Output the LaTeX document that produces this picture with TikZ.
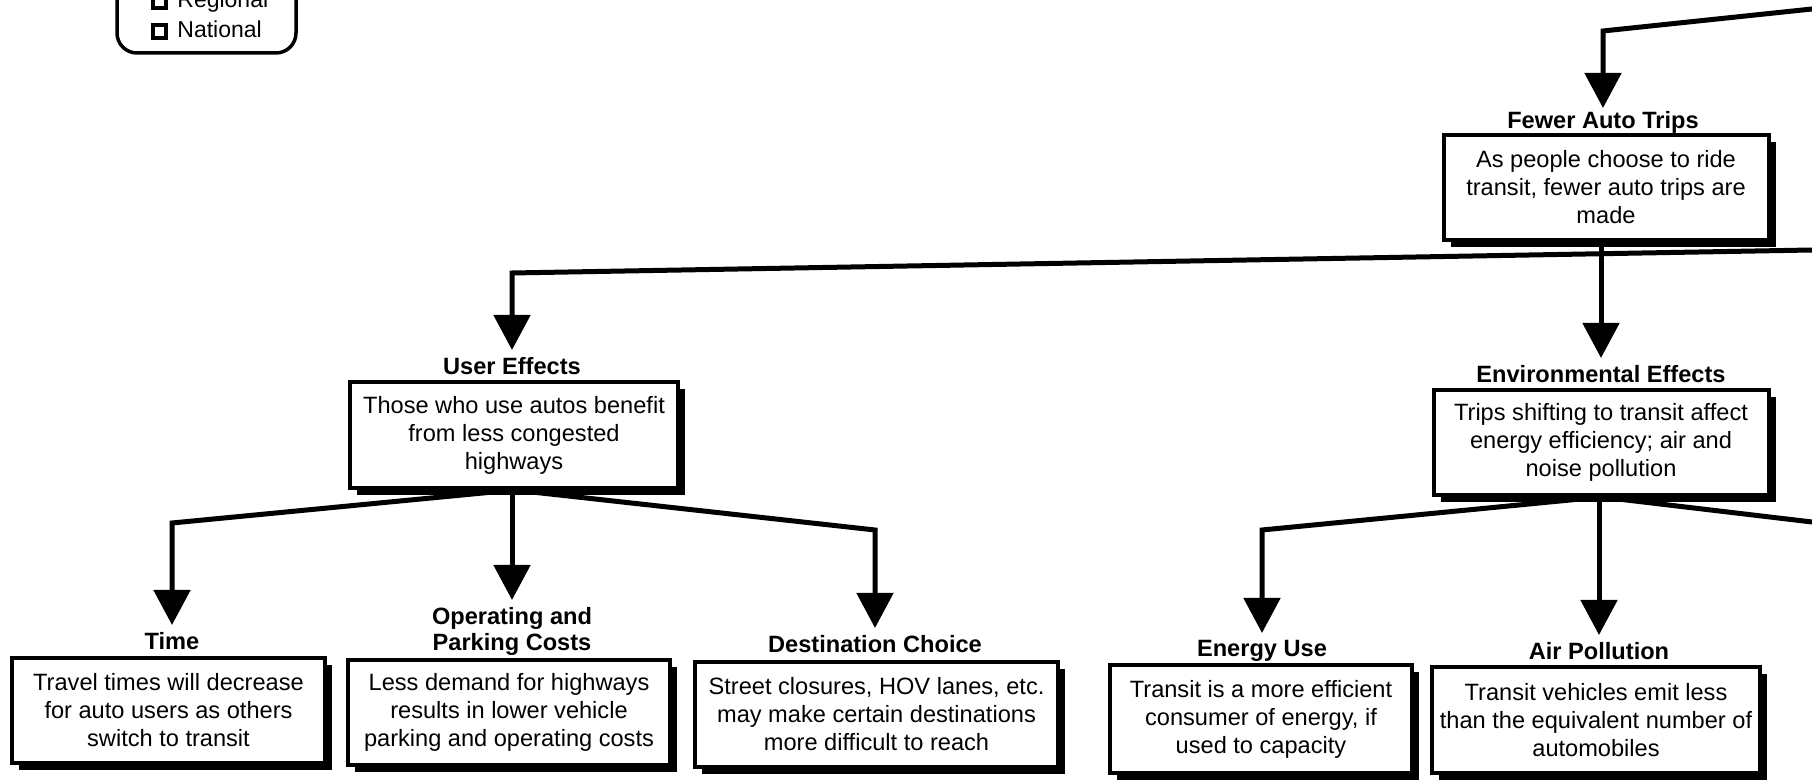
\documentclass[tikz,border=0pt]{standalone}
\usepackage{fontspec}
\setmainfont{Liberation Sans}
\usetikzlibrary{arrows.meta,shadows,backgrounds}
\begin{document}
\begin{tikzpicture}[x=0.5pt,y=-0.5pt,
  every node/.style={font=\fontsize{11.8pt}{14pt}\selectfont},
  effectbox/.style={draw, line width=2pt, fill=white, align=center, inner sep=0pt,
    drop shadow={shadow xshift=3.5pt, shadow yshift=-3.5pt, fill=black, opacity=1}},
  heading/.style={anchor=north, inner sep=0pt, inner ysep=3.5pt, align=center,
    font=\fontsize{11.8pt}{13pt}\selectfont\bfseries},
  conn/.style={line width=2.5pt, -{Triangle[length=17.5pt,width=18pt]}},
  feed/.style={line width=2.5pt},
  legendmark/.style={draw, line width=2pt, minimum size=6.5pt, inner sep=0pt},
  legendtext/.style={anchor=base west, inner sep=0pt, font=\fontsize{11.5pt}{13pt}\selectfont},
]
\useasboundingbox (0,0) rectangle (1812,780);

% legend (top part runs off the page)
\node[draw, line width=1.75pt, rounded corners=10pt, minimum width=89.5pt,
      minimum height=75.5pt, inner sep=0pt] (legend) at (206.5,-22.5) {};
\node[legendmark] (regmark) at (159.5,1.5) {};
\node[legendtext] (regtxt) at (177,8) {Regional};
\node[legendmark] (natmark) at (159.5,31.5) {};
\node[legendtext] (nattxt) at (177,38) {National};

% effect boxes
\node[effectbox, minimum width=162.5pt, minimum height=52.5pt] (fewer) at (1606,187.5)
  {As people choose to ride\\transit, fewer auto trips are\\made};
\node[effectbox, minimum width=164pt, minimum height=53pt] (user) at (514,435)
  {Those who use autos benefit\\from less congested\\highways};
\node[effectbox, minimum width=167.5pt, minimum height=52.5pt] (env) at (1601,442.5)
  {Trips shifting to transit affect\\energy efficiency; air and\\noise pollution};
\node[effectbox, minimum width=156.5pt, minimum height=52.5pt] (time) at (168.5,710.5)
  {Travel times will decrease\\for auto users as others\\switch to transit};
\node[effectbox, minimum width=161pt, minimum height=52.5pt] (oper) at (509,712.5)
  {Less demand for highways\\results in lower vehicle\\parking and operating costs};
\node[effectbox, minimum width=181.5pt, minimum height=52.5pt] (dest) at (876.5,714.5)
  {Street closures, HOV lanes, etc.\\may make certain destinations\\more difficult to reach};
\node[effectbox, minimum width=151pt, minimum height=54pt] (energy) at (1261,719)
  {Transit is a more efficient\\consumer of energy, if\\used to capacity};
\node[effectbox, minimum width=164pt, minimum height=53pt] (air) at (1596,720)
  {Transit vehicles emit less\\than the equivalent number of\\automobiles};

% headings (arrow tips end at their north anchors)
\node[heading, inner ysep=1.5pt] (fewerT) at (1603,108) {Fewer Auto Trips};
\node[heading] (userT) at (512,350) {User Effects};
\node[heading] (envT) at (1601,358) {Environmental Effects};
\node[heading] (timeT) at (172,625) {Time};
\node[heading] (operT) at (512,600) {Operating and\\Parking Costs};
\node[heading] (destT) at (875,628) {Destination Choice};
\node[heading] (energyT) at (1262,633) {Energy Use};
\node[heading] (airT) at (1599,635) {Air Pollution};

% bends and loose ends of the connectors
\coordinate (topin) at (1812,9);
\coordinate (topbend) at (1603,31);
\coordinate (mainin) at (1812,250);
\coordinate (mainbend) at (512,273);
\coordinate (timebend) at (172,523);
\coordinate (destbend) at (875,530);
\coordinate (energybend) at (1262,530);
\coordinate (envout) at (1812,522);

\begin{scope}[on background layer]
  \draw[conn] (topin) -- (topbend) -- (fewerT.north);
  \draw[conn] (mainin) -- (mainbend) -- (userT.north);
  \draw[conn] (envT.north |- fewer.south) -- (envT.north);
  \draw[conn] (user.south) -- (timebend) -- (timeT.north);
  \draw[conn] (operT.north |- user.south) -- (operT.north);
  \draw[conn] (user.south) -- (destbend) -- (destT.north);
  \draw[conn] (env.south) -- (energybend) -- (energyT.north);
  \draw[conn] (airT.north |- env.south) -- (airT.north);
  \draw[feed] (env.south) -- (envout);
\end{scope}
\end{tikzpicture}
\end{document}
